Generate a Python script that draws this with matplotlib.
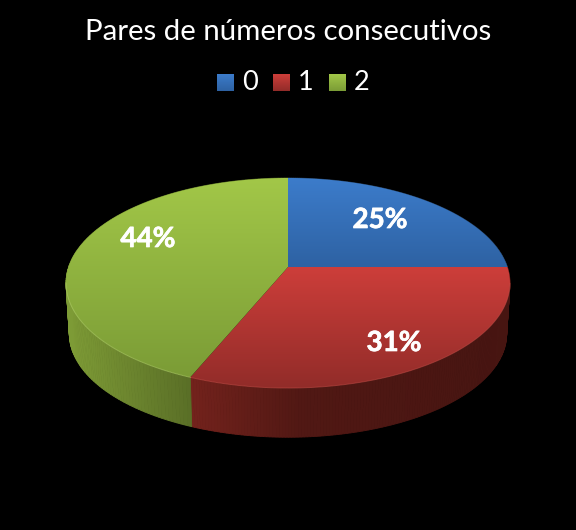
import numpy as np
import matplotlib
matplotlib.use("Agg")
import matplotlib.pyplot as plt
import matplotlib.patheffects as pe
from matplotlib.colors import to_rgb
from matplotlib.patches import Polygon

title = "Pares de números consecutivos"
categories = ["0", "1", "2"]
values = [4, 5, 7]  # shown as 25%, 31%, 44%

# colour at top / bottom of each slice face
top_colors = ["#3c7ccb", "#cd3e3a", "#a2c748"]
bottom_colors = ["#2e62a3", "#922c29", "#7b9c36"]
wall_colors = ["#4f81bd", "#c0392f", "#95b840"]
rim_colors = ["#5f93d3", "#c8504a", "#b8d870"]

label_xy = [(380, 220), (394, 343), (148, 239)]
legend_x = [217, 273, 329]

# perspective of the pie, in pixels of the 576x530 picture
cx, cy = 288, 267
B, A, k = 219.4, 102.6, 0.1525
depth = 51
bottom_scale = 0.985


def project(theta, drop=0.0, scale=1.0):
    w = 1 + k * np.sin(theta)
    x = cx + scale * B * np.cos(theta) / w
    y = cy + drop - scale * A * np.sin(theta) / w
    return x, y


def gradient(ax, x0, x1, y0, y1, c0, c1, clip=None):
    t = np.linspace(0, 1, 64)[:, None, None]
    img = (1 - t) * np.array(to_rgb(c0))[None, None, :] + t * np.array(to_rgb(c1))[None, None, :]
    im = ax.imshow(img, extent=(x0, x1, y1, y0), origin="upper", aspect="auto",
                   interpolation="bilinear", zorder=3)
    if clip is not None:
        im.set_clip_path(clip)
    return im


fig = plt.figure(figsize=(5.76, 5.30), dpi=100, facecolor="black")
ax = fig.add_axes([0, 0, 1, 1])
ax.set_facecolor("black")
ax.axis("off")

# slice angles, clockwise from 12 o'clock
fractions = np.cumsum([0] + values) / sum(values)
angles = np.pi / 2 - 2 * np.pi * fractions

# side wall first, the faces go over it
for i in range(len(values)):
    th = np.linspace(angles[i], angles[i + 1], 160)
    for a, b in zip(th[:-1], th[1:]):
        xt, yt = project(np.array([a, b]))
        xb, yb = project(np.array([b, a]), depth, bottom_scale)
        shade = np.interp(xt.mean(), [70, 191, 300, 510], [0.84, 0.60, 0.42, 0.37])
        col = np.array(to_rgb(wall_colors[i])) * shade
        ax.fill(np.r_[xt, xb], np.r_[yt, yb], color=col, lw=0.6, zorder=2)

# faces
for i in range(len(values)):
    th = np.linspace(angles[i], angles[i + 1], 240)
    x, y = project(th)
    px = np.r_[cx, x]
    py = np.r_[cy, y]
    poly = Polygon(np.c_[px, py], closed=True, transform=ax.transData, fc="none", ec="none")
    ax.add_patch(poly)
    gradient(ax, px.min(), px.max(), py.min(), py.max(), top_colors[i], bottom_colors[i], poly)
    # light rim along the front edge
    front = np.sin(th) < -k
    ax.plot(x[front], y[front], color=rim_colors[i], lw=0.7, alpha=0.5, zorder=4)

for (lx, ly), v in zip(label_xy, values):
    ax.text(lx, ly, f"{100 * v / sum(values):.0f}%", color="white", fontsize=20, fontweight="bold",
            family="Lato", ha="center", va="center", zorder=5,
            path_effects=[pe.withStroke(linewidth=0.5, foreground="white")])

ax.text(288, 32, title, color="white", fontsize=21.2, family="Lato", ha="center", va="center")

# legend
for x0, name, c0, c1 in zip(legend_x, categories, top_colors, bottom_colors):
    gradient(ax, x0, x0 + 17, 74, 91, c0, c1)
    ax.text(x0 + 25, 83, name, color="white", fontsize=19.5, family="Lato", ha="left", va="center")

ax.set_xlim(0, 576)
ax.set_ylim(530, 0)
fig.savefig("out.png", dpi=100, facecolor="black")
